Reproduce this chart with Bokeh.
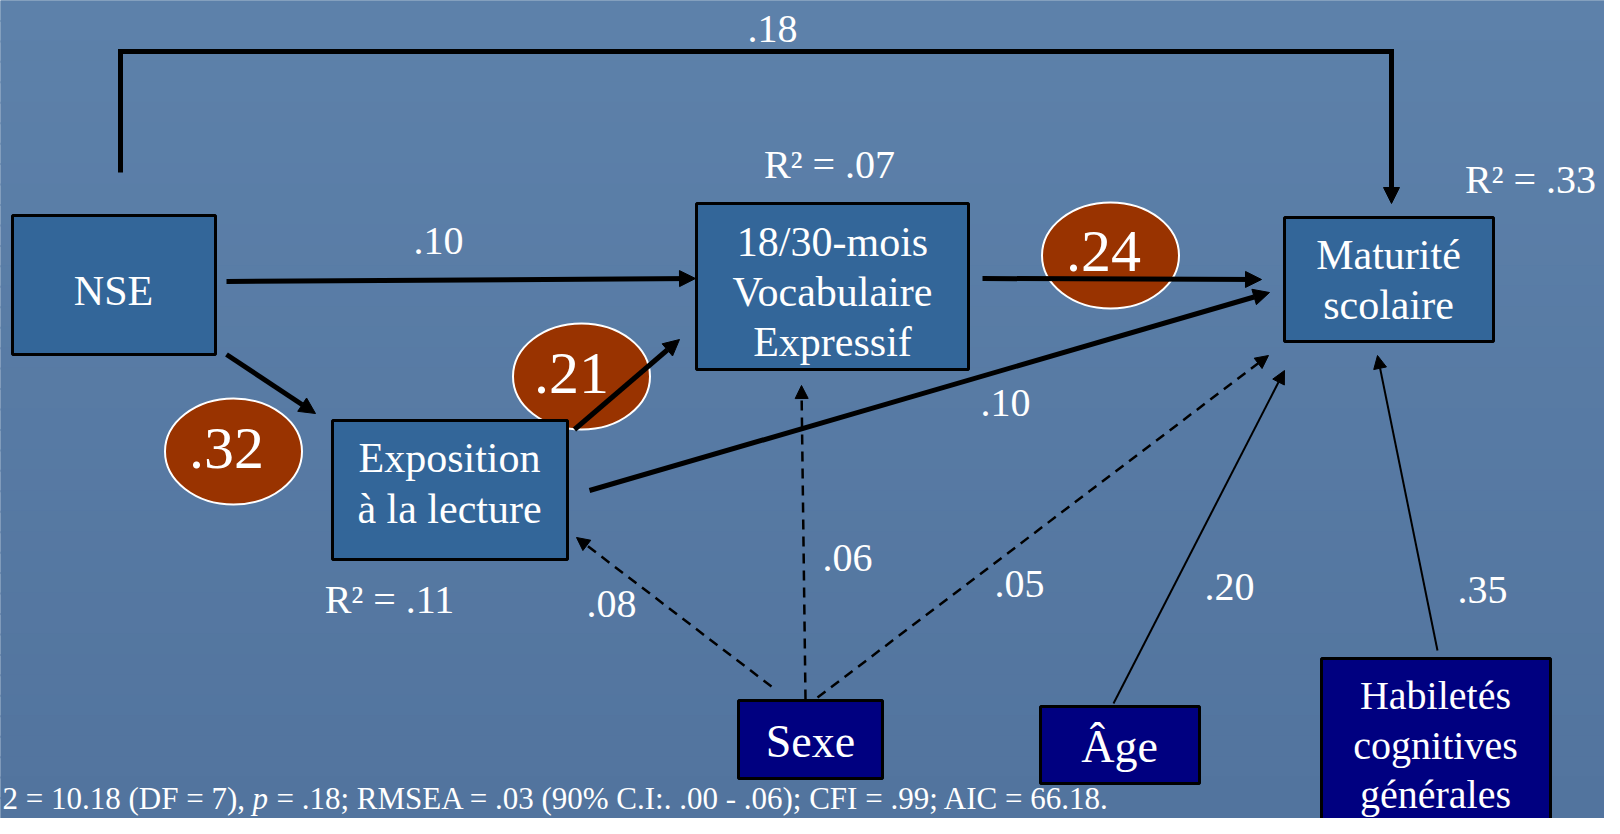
from bokeh.plotting import figure
from bokeh.models import Range1d, ColumnDataSource, Arrow, NormalHead
from bokeh.core.properties import value
from bokeh.embed import file_html
from bokeh.resources import INLINE

# ---------------- data ----------------
node_ids = ["NSE", "Vocab", "Expo", "Mat", "Sexe", "Age", "Hab"]
node_lines = [
    ["NSE"],
    ["18/30-mois", "Vocabulaire", "Expressif"],
    ["Exposition", "à la lecture"],
    ["Maturité", "scolaire"],
    ["Sexe"],
    ["Âge"],
    ["Habiletés", "cognitives", "générales"],
]
path_from = ["NSE", "NSE", "Expo", "Vocab", "Expo", "NSE", "Sexe", "Sexe", "Sexe", "Age", "Hab"]
path_to = ["Vocab", "Expo", "Vocab", "Mat", "Mat", "Mat", "Expo", "Vocab", "Mat", "Mat", "Mat"]
path_coef = [0.10, 0.32, 0.21, 0.24, 0.10, 0.18, 0.08, 0.06, 0.05, 0.20, 0.35]
highlight_paths = [1, 2, 3]          # coefficients shown in ovals
r2_nodes = ["Expo", "Vocab", "Mat"]
r2_values = [0.11, 0.07, 0.33]
fit_parts = ["2 = 10.18 (DF = 7), ", "p", "= .18; RMSEA = .03 (90% C.I:. .00 - .06); CFI = .99; AIC = 66.18."]

# ---------------- layout (pixel space of the slide) ----------------
BG_TOP = (93, 129, 170)
BG_BOTTOM = (82, 116, 158)
BOX_MID = "#336699"
BOX_NAVY = "#000080"
OVAL = "#993300"
FONT = value("Liberation Serif")
BASE_SHIFT = 0.36   # renderer places alphabetic baseline ~0.36 em low

box_geom = {
    "NSE": (12, 215, 215, 354),
    "Vocab": (696, 203, 968, 369),
    "Expo": (332, 420, 567, 559),
    "Mat": (1284, 217, 1493, 341),
    "Sexe": (738, 700, 882, 778),
    "Age": (1040, 706, 1199, 783),
    "Hab": (1321, 658, 1550, 860),
}
box_fill = {"NSE": BOX_MID, "Vocab": BOX_MID, "Expo": BOX_MID, "Mat": BOX_MID,
            "Sexe": BOX_NAVY, "Age": BOX_NAVY, "Hab": BOX_NAVY}
box_text = {  # center x, baselines, font size
    "NSE": (113, [306], 42),
    "Vocab": (832, [257, 307, 357], 42),
    "Expo": (449, [473, 524], 42),
    "Mat": (1388, [270, 320], 42),
    "Sexe": (810, [758], 46),
    "Age": (1119, [763], 46),
    "Hab": (1435, [709, 759, 808], 40),
}
path_geom = [
    ((226, 281), (695, 278), "thick"),
    ((226, 354), (315, 413), "thick"),
    ((574, 429), (679, 339), "thick"),
    ((982, 278), (1261, 279), "thick"),
    ((589, 490), (1269, 292), "thick"),
    ((1391, 51), (1391, 203), "thick"),
    ((771, 686), (576, 537), "dash"),
    ((805, 699), (801, 385), "dash"),
    ((817, 697), (1268, 355), "dash"),
    ((1113, 703), (1284, 370), "thin"),
    ((1437, 650), (1377, 355), "thin"),
]
connector_pts = [(120, 172), (120, 51), (1391, 51), (1391, 190)]   # path index 5 (NSE -> Mat)
label_pos = [
    (438, 255), (226, 470), (571, 395), (1103, 273), (1005, 417), (772, 43),
    (611, 618), (847, 572), (1019, 598), (1229, 601), (1482, 604),
]
oval_center = {1: (233, 451), 2: (581, 376), 3: (1110, 255)}
r2_pos = {"Expo": (389, 613), "Vocab": (829, 178), "Mat": (1530, 193)}
fit_x = [2, 252, 276]
fit_y = 809
fit_fs = 31

# ---------------- figure ----------------
W, H = 1604, 818
p = figure(width=W, height=H, output_backend="svg", toolbar_location=None,
           x_range=Range1d(0, W), y_range=Range1d(H, 0),
           min_border=0, tools="")
p.axis.visible = False
p.grid.visible = False
p.outline_line_color = None
p.background_fill_color = "#5a7ea7"
p.border_fill_color = "#5a7ea7"

# background gradient bands
nb = 40
bt, bb, bc = [], [], []
for k in range(nb):
    t = k / (nb - 1)
    c = tuple(int(round(BG_TOP[j] + (BG_BOTTOM[j] - BG_TOP[j]) * t)) for j in range(3))
    bt.append(k * H / nb - 1)
    bb.append((k + 1) * H / nb + 1)
    bc.append("#%02x%02x%02x" % c)
p.quad(left=-5, right=W + 5, top=bt, bottom=bb, fill_color=bc, line_color=None)


def fmt(v):
    return f"{v:.2f}".lstrip("0")


def ty(baseline, fs):
    return baseline - BASE_SHIFT * fs


# ovals (under arrows and boxes)
ox = [oval_center[i][0] for i in highlight_paths]
oy = [oval_center[i][1] for i in highlight_paths]
p.ellipse(x=ox, y=oy, width=137, height=106, fill_color=OVAL,
          line_color="white", line_width=2)

# boxes
src_box = ColumnDataSource(dict(
    left=[box_geom[n][0] for n in node_ids],
    top=[box_geom[n][1] for n in node_ids],
    right=[box_geom[n][2] for n in node_ids],
    bottom=[box_geom[n][3] for n in node_ids],
    fill=[box_fill[n] for n in node_ids],
))
p.quad(left="left", right="right", top="top", bottom="bottom", source=src_box,
       fill_color="fill", line_color="black", line_width=3)

# top connector polyline
p.line([c[0] for c in connector_pts], [c[1] for c in connector_pts],
       line_color="black", line_width=5, line_join="miter")

# arrows grouped by style
styles = {
    "thick": dict(line_width=5, line_dash="solid", head=16),
    "dash": dict(line_width=2.5, line_dash="10 7", head=13),
    "thin": dict(line_width=2, line_dash="solid", head=13),
}
for sname, st in styles.items():
    idx = [i for i, g in enumerate(path_geom) if g[2] == sname]
    src = ColumnDataSource(dict(
        x0=[path_geom[i][0][0] for i in idx], y0=[path_geom[i][0][1] for i in idx],
        x1=[path_geom[i][1][0] for i in idx], y1=[path_geom[i][1][1] for i in idx],
    ))
    head = NormalHead(size=st["head"], fill_color="black", line_color="black", line_width=1)
    p.add_layout(Arrow(x_start="x0", y_start="y0", x_end="x1", y_end="y1", source=src,
                       end=head, line_color="black", line_width=st["line_width"],
                       line_dash=st["line_dash"]))

# box texts
tx, tyy, tt, ts = [], [], [], []
for n, lines in zip(node_ids, node_lines):
    cx, bls, fs = box_text[n]
    for line, bl in zip(lines, bls):
        tx.append(cx); tyy.append(ty(bl, fs)); tt.append(line); ts.append(f"{fs}px")
p.text(x=tx, y=tyy, text=tt, text_font_size=ts, text_font=FONT, text_color="white",
       text_align="center", text_baseline="alphabetic")

# path coefficients
lsz_n = [60 if i in highlight_paths else 40 for i in range(len(path_coef))]
lx = [label_pos[i][0] for i in range(len(path_coef))]
ly = [ty(label_pos[i][1], lsz_n[i]) for i in range(len(path_coef))]
lt = [fmt(v) for v in path_coef]
p.text(x=lx, y=ly, text=lt, text_font_size=[f"{s}px" for s in lsz_n], text_font=FONT,
       text_color="white", text_align="center", text_baseline="alphabetic")

# R2 labels
p.text(x=[r2_pos[n][0] for n in r2_nodes], y=[ty(r2_pos[n][1], 40) for n in r2_nodes],
       text=[f"R² = {fmt(v)}" for v in r2_values], text_font_size="40px",
       text_font=FONT, text_color="white", text_align="center", text_baseline="alphabetic")

# fit statistics
for i, part in enumerate(fit_parts):
    p.text(x=[fit_x[i]], y=[ty(fit_y, fit_fs)], text=[part], text_font_size=f"{fit_fs}px",
           text_font=FONT, text_color="white", text_align="left", text_baseline="alphabetic",
           text_font_style="italic" if part == "p" else "normal")

open("out.html", "w").write(file_html(p, INLINE))
